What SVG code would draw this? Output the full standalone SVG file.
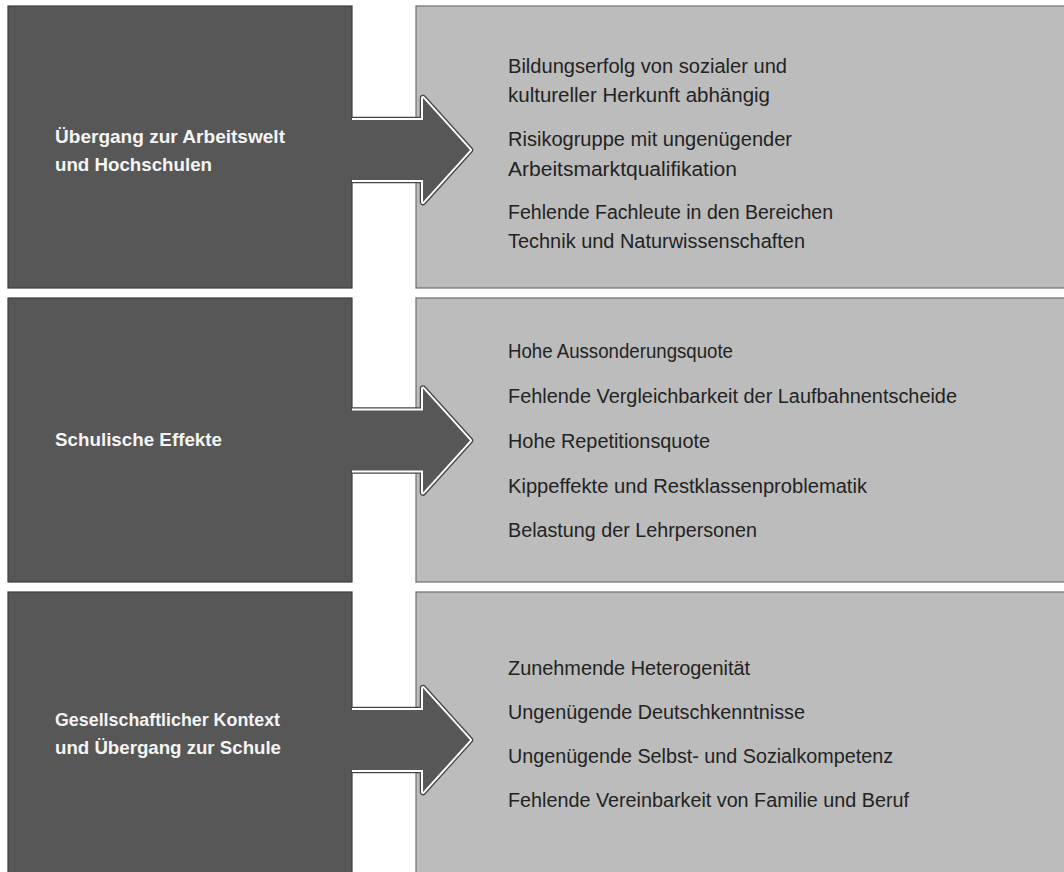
<svg xmlns="http://www.w3.org/2000/svg" xmlns:xlink="http://www.w3.org/1999/xlink" width="1064" height="872" viewBox="0 0 1064 872">
<style>
.dark{fill:#575757;stroke:#3c3c3c;stroke-width:1.2}
.light{fill:#bcbcbc;stroke:#6e6e6e;stroke-width:1.2}
.lt{font-family:"Liberation Sans",Arial,sans-serif;font-size:18.5px;font-weight:bold;fill:#f4f4f4}
.rt{font-family:"Liberation Sans",Arial,sans-serif;font-size:19.5px;fill:#232323}
.aOut{fill:none;stroke:#454545;stroke-width:6.5;stroke-linejoin:round}
.aIn{fill:none;stroke:#ffffff;stroke-width:4;stroke-linejoin:round}
.aFill{fill:#575757;stroke:none}
</style>
<defs>
<path id="arrowEdge" d="M352,-30 L423,-30 L423,-52 L470,0 L423,52 L423,30 L352,30"/>
<path id="arrowBody" d="M350,-30 L423,-30 L423,-52 L470,0 L423,52 L423,30 L350,30 Z"/>
</defs>
<rect x="0" y="0" width="1064" height="872" fill="#ffffff"/>

<g id="node-arbeitswelt">
<rect class="dark" x="8" y="6" width="344" height="282"/>
<text class="lt" x="55" y="143" textLength="230" lengthAdjust="spacingAndGlyphs">Übergang zur Arbeitswelt</text>
<text class="lt" x="55" y="171" textLength="157" lengthAdjust="spacingAndGlyphs">und Hochschulen</text>
</g>
<g id="node-arbeitswelt-items">
<rect class="light" x="416" y="6" width="660" height="282"/>
<text class="rt" x="508" y="73" textLength="279" lengthAdjust="spacingAndGlyphs">Bildungserfolg von sozialer und</text>
<text class="rt" x="508" y="102" textLength="262" lengthAdjust="spacingAndGlyphs">kultureller Herkunft abhängig</text>
<text class="rt" x="508" y="146" textLength="284" lengthAdjust="spacingAndGlyphs">Risikogruppe mit ungenügender</text>
<text class="rt" x="508" y="176" textLength="229" lengthAdjust="spacingAndGlyphs">Arbeitsmarktqualifikation</text>
<text class="rt" x="508" y="219" textLength="325" lengthAdjust="spacingAndGlyphs">Fehlende Fachleute in den Bereichen</text>
<text class="rt" x="508" y="248" textLength="297" lengthAdjust="spacingAndGlyphs">Technik und Naturwissenschaften</text>
</g>

<g id="node-schule">
<rect class="dark" x="8" y="298" width="344" height="284"/>
<text class="lt" x="55" y="446" textLength="167" lengthAdjust="spacingAndGlyphs">Schulische Effekte</text>
</g>
<g id="node-schule-items">
<rect class="light" x="416" y="298" width="660" height="284"/>
<text class="rt" x="508" y="358" textLength="225" lengthAdjust="spacingAndGlyphs">Hohe Aussonderungsquote</text>
<text class="rt" x="508" y="403" textLength="449" lengthAdjust="spacingAndGlyphs">Fehlende Vergleichbarkeit der Laufbahnentscheide</text>
<text class="rt" x="508" y="448" textLength="202" lengthAdjust="spacingAndGlyphs">Hohe Repetitionsquote</text>
<text class="rt" x="508" y="493" textLength="359" lengthAdjust="spacingAndGlyphs">Kippeffekte und Restklassenproblematik</text>
<text class="rt" x="508" y="537" textLength="249" lengthAdjust="spacingAndGlyphs">Belastung der Lehrpersonen</text>
</g>

<g id="node-gesellschaft">
<rect class="dark" x="8" y="592" width="344" height="290"/>
<text class="lt" x="55" y="726" textLength="225" lengthAdjust="spacingAndGlyphs">Gesellschaftlicher Kontext</text>
<text class="lt" x="55" y="754" textLength="226" lengthAdjust="spacingAndGlyphs">und Übergang zur Schule</text>
</g>
<g id="node-gesellschaft-items">
<rect class="light" x="416" y="592" width="660" height="290"/>
<text class="rt" x="508" y="675" textLength="242" lengthAdjust="spacingAndGlyphs">Zunehmende Heterogenität</text>
<text class="rt" x="508" y="719" textLength="297" lengthAdjust="spacingAndGlyphs">Ungenügende Deutschkenntnisse</text>
<text class="rt" x="508" y="763" textLength="385" lengthAdjust="spacingAndGlyphs">Ungenügende Selbst- und Sozialkompetenz</text>
<text class="rt" x="508" y="807" textLength="401" lengthAdjust="spacingAndGlyphs">Fehlende Vereinbarkeit von Familie und Beruf</text>
</g>

<g id="connectors">
<g transform="translate(0,150)">
<use xlink:href="#arrowEdge" class="aOut"/>
<use xlink:href="#arrowEdge" class="aIn"/>
<use xlink:href="#arrowBody" class="aFill"/>
</g>
<g transform="translate(0,440.5)">
<use xlink:href="#arrowEdge" class="aOut"/>
<use xlink:href="#arrowEdge" class="aIn"/>
<use xlink:href="#arrowBody" class="aFill"/>
</g>
<g transform="translate(0,740)">
<use xlink:href="#arrowEdge" class="aOut"/>
<use xlink:href="#arrowEdge" class="aIn"/>
<use xlink:href="#arrowBody" class="aFill"/>
</g>
</g>
</svg>
